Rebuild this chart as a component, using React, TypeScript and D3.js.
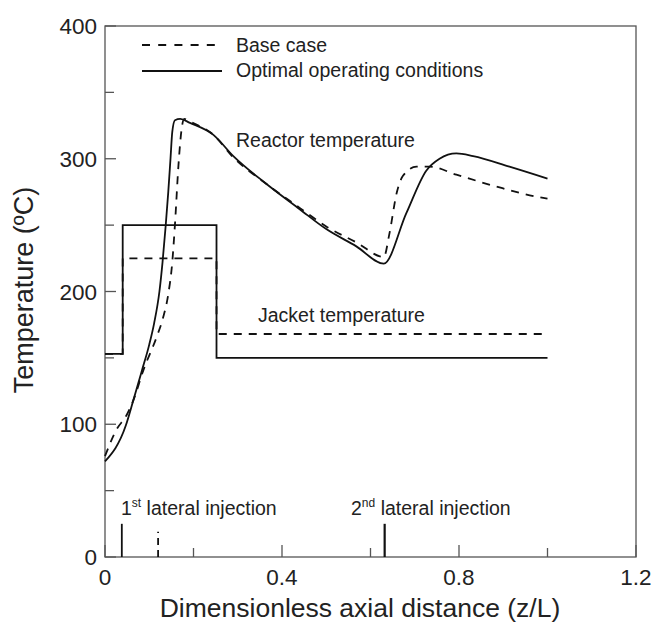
import * as d3 from "d3";

// axial position (z/L) and temperature (ºC)
const optReactorZ = [0, 0.047, 0.064, 0.083, 0.1, 0.111, 0.123, 0.13, 0.137, 0.143, 0.148, 0.152, 0.158, 0.17, 0.192, 0.245, 0.29, 0.365, 0.44, 0.5, 0.568, 0.63, 0.681, 0.726, 0.756, 0.794, 0.832, 0.914, 1.0];
const optReactorT = [72, 99, 118, 140, 160, 176, 200, 222, 249, 275, 300, 320, 329, 330, 327, 318, 302, 281, 262, 247, 234, 221, 259, 291, 300, 304, 302, 294, 285];

const baseReactorZ = [0, 0.026, 0.049, 0.064, 0.087, 0.117, 0.131, 0.143, 0.152, 0.158, 0.166, 0.173, 0.179, 0.192, 0.245, 0.29, 0.365, 0.44, 0.5, 0.568, 0.63, 0.643, 0.659, 0.673, 0.704, 0.734, 0.794, 0.885, 0.982, 1.0];
const baseReactorT = [76, 96, 107, 118, 141, 166, 180, 198, 222, 250, 295, 322, 330, 328, 318, 301, 281, 263, 249, 237, 226, 244, 274, 287, 294, 294, 288, 279, 271, 270];

const optJacketZ = [0, 0.04, 0.04, 0.252, 0.252, 1.0];
const optJacketT = [153, 153, 250, 250, 150, 150];
const baseJacketZ = [0, 0.04, 0.04, 0.252, 0.252, 1.0];
const baseJacketT = [153, 153, 225, 225, 168, 168];

// lateral injection markers: position, height, solid/dashed
const injectionZ = [0.038, 0.12, 0.632];
const injectionH = [25, 19, 25];
const injectionDashed = [false, true, false];

const xMajor = [0, 0.4, 0.8, 1.2];
const xMinor = [0.2, 0.6, 1.0];
const yMajor = [0, 100, 200, 300, 400];
const yMinor = [50, 150, 250, 350];

const FONT = "'Liberation Sans', Arial, Helvetica, sans-serif";
const W = 653;
const H = 623;
const PLOT = { left: 105, right: 636, top: 26, bottom: 557 };
const DASH = "8,7";

export default function App() {
  const x = d3.scaleLinear().domain([0, 1.2]).range([PLOT.left, PLOT.right]);
  const y = d3.scaleLinear().domain([0, 400]).range([PLOT.bottom, PLOT.top]);

  const smooth = d3
    .line<[number, number]>()
    .x((d) => x(d[0]))
    .y((d) => y(d[1]))
    .curve(d3.curveMonotoneX);
  const straight = d3
    .line<[number, number]>()
    .x((d) => x(d[0]))
    .y((d) => y(d[1]));

  const zip = (a: number[], b: number[]) => a.map((v, i) => [v, b[i]] as [number, number]);

  return (
    <div style={{ position: "absolute", left: 0, top: 0 }}>
      <svg width={W} height={H} style={{ display: "block", background: "#fff" }} fontFamily={FONT}>
        {/* frame */}
        <rect
          x={PLOT.left}
          y={PLOT.top}
          width={PLOT.right - PLOT.left}
          height={PLOT.bottom - PLOT.top}
          fill="none"
          stroke="#555"
          strokeWidth={1.3}
        />

        {/* ticks, inward */}
        {yMajor.map((v) => (
          <line key={"ym" + v} x1={PLOT.left} x2={PLOT.left + 11} y1={y(v)} y2={y(v)} stroke="#555" strokeWidth={1.3} />
        ))}
        {yMinor.map((v) => (
          <line key={"yn" + v} x1={PLOT.left} x2={PLOT.left + 9} y1={y(v)} y2={y(v)} stroke="#555" strokeWidth={1.3} />
        ))}
        {xMajor.map((v) => (
          <line key={"xm" + v} x1={x(v)} x2={x(v)} y1={PLOT.bottom} y2={PLOT.bottom - 12} stroke="#555" strokeWidth={1.3} />
        ))}
        {xMinor.map((v) => (
          <line key={"xn" + v} x1={x(v)} x2={x(v)} y1={PLOT.bottom} y2={PLOT.bottom - 9} stroke="#555" strokeWidth={1.3} />
        ))}

        {/* tick labels */}
        {yMajor.map((v) => (
          <text key={"yl" + v} x={PLOT.left - 8} y={y(v) + 8} textAnchor="end" fontSize={22.5} fill="#222">
            {v}
          </text>
        ))}
        {xMajor.map((v) => (
          <text key={"xl" + v} x={x(v)} y={585} textAnchor="middle" fontSize={22.5} fill="#222">
            {v === 0 ? "0" : v.toFixed(1)}
          </text>
        ))}

        {/* axis titles */}
        <text x={360} y={617} textAnchor="middle" fontSize={26.5} fill="#222">
          Dimensionless axial distance (z/L)
        </text>
        <text transform="translate(33,290) rotate(-90)" textAnchor="middle" fontSize={27} fill="#222">
          Temperature (ºC)
        </text>

        {/* jacket temperature */}
        <path d={straight(zip(optJacketZ, optJacketT)) || ""} fill="none" stroke="#111" strokeWidth={1.8} />
        <path d={straight(zip(baseJacketZ, baseJacketT)) || ""} fill="none" stroke="#111" strokeWidth={1.8} strokeDasharray={DASH} />

        {/* reactor temperature */}
        <path d={smooth(zip(optReactorZ, optReactorT)) || ""} fill="none" stroke="#111" strokeWidth={1.8} />
        <path d={smooth(zip(baseReactorZ, baseReactorT)) || ""} fill="none" stroke="#111" strokeWidth={1.8} strokeDasharray={DASH} />

        {/* injection markers */}
        {injectionZ.map((z, i) => (
          <line
            key={"inj" + i}
            x1={x(z)}
            x2={x(z)}
            y1={y(0)}
            y2={y(injectionH[i])}
            stroke="#111"
            strokeWidth={i === 2 ? 2.2 : 1.8}
            strokeDasharray={injectionDashed[i] ? "7,5" : undefined}
          />
        ))}

        {/* annotations */}
        <text x={236} y={147} fontSize={19.5} fill="#222">Reactor temperature</text>
        <text x={258} y={322} fontSize={19.5} fill="#222">Jacket temperature</text>
        <text x={121} y={515} fontSize={19.5} fill="#222">
          1<tspan fontSize={12} dy={-8}>st</tspan>
          <tspan dy={8}> lateral injection</tspan>
        </text>
        <text x={351} y={515} fontSize={19.5} fill="#222">
          2<tspan fontSize={12} dy={-8}>nd</tspan>
          <tspan dy={8}> lateral injection</tspan>
        </text>

        {/* legend */}
        <line x1={142} x2={222} y1={45} y2={45} stroke="#111" strokeWidth={1.8} strokeDasharray="8,8.2" />
        <text x={236} y={52} fontSize={19.5} fill="#222">Base case</text>
        <line x1={142} x2={222} y1={71} y2={71} stroke="#111" strokeWidth={1.8} />
        <text x={236} y={77} fontSize={19.5} fill="#222">Optimal operating conditions</text>
      </svg>
    </div>
  );
}
